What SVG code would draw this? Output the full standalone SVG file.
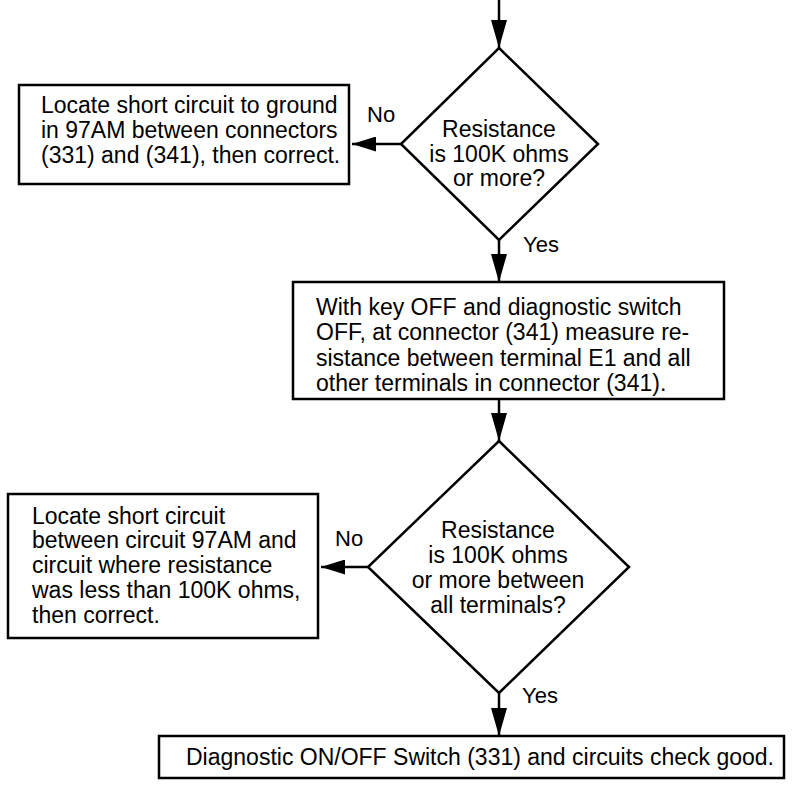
<svg xmlns="http://www.w3.org/2000/svg" width="800" height="793" viewBox="0 0 800 793">
  <style>
    .shape { fill: #ffffff; stroke: #000000; stroke-width: 2.5; }
    .conn { fill: none; stroke: #000000; stroke-width: 2.5; }
    .t { font-family: "Liberation Sans", Arial, sans-serif; font-size: 23px; fill: #000000; }
    .c { text-anchor: middle; }
    .lbl { font-family: "Liberation Sans", Arial, sans-serif; font-size: 22px; fill: #000000; }
  </style>
  <defs>
    <marker id="arrow" markerUnits="userSpaceOnUse" viewBox="0 0 28 16" markerWidth="28" markerHeight="16" refX="28" refY="8" orient="auto">
      <path d="M0,0 L28,8 L0,16 z" fill="#000000"/>
    </marker>
    <marker id="arrowh" markerUnits="userSpaceOnUse" viewBox="0 0 24 15" markerWidth="24" markerHeight="15" refX="24" refY="7.5" orient="auto">
      <path d="M0,0 L24,7.5 L0,15 z" fill="#000000"/>
    </marker>
  </defs>
  <rect width="800" height="793" fill="#ffffff"/>

  <g id="connectors">
    <line class="conn" x1="499" y1="0" x2="499" y2="48" marker-end="url(#arrow)"/>
    <line class="conn" x1="401" y1="144" x2="352" y2="144" marker-end="url(#arrowh)"/>
    <line class="conn" x1="499" y1="240" x2="499" y2="282" marker-end="url(#arrow)"/>
    <line class="conn" x1="499" y1="399" x2="499" y2="441" marker-end="url(#arrow)"/>
    <line class="conn" x1="368" y1="567" x2="321" y2="567" marker-end="url(#arrowh)"/>
    <line class="conn" x1="499" y1="693" x2="499" y2="736" marker-end="url(#arrow)"/>
    <text class="lbl" x="367" y="122">No</text>
    <text class="lbl" x="523" y="252">Yes</text>
    <text class="lbl" x="335" y="546">No</text>
    <text class="lbl" x="522" y="703">Yes</text>
  </g>

  <g id="decision1">
    <polygon class="shape" points="499,48 598,144 499,240 401,144"/>
    <text class="t c" x="499" y="137">Resistance</text>
    <text class="t c" x="499" y="162">is 100K ohms</text>
    <text class="t c" x="499" y="186">or more?</text>
  </g>

  <g id="box-short-ground">
    <rect class="shape" x="19" y="85" width="330" height="99"/>
    <text class="t" x="41" y="113">Locate short circuit to ground</text>
    <text class="t" x="41" y="138">in 97AM between connectors</text>
    <text class="t" x="41" y="163">(331) and (341), then correct.</text>
  </g>

  <g id="box-measure">
    <rect class="shape" x="293" y="282" width="431" height="117"/>
    <text class="t" x="316" y="315">With key OFF and diagnostic switch</text>
    <text class="t" x="316" y="340">OFF, at connector (341) measure re-</text>
    <text class="t" x="316" y="366">sistance between terminal E1 and all</text>
    <text class="t" x="316" y="391">other terminals in connector (341).</text>
  </g>

  <g id="decision2">
    <polygon class="shape" points="499,441 629,567 499,693 368,567"/>
    <text class="t c" x="498" y="538">Resistance</text>
    <text class="t c" x="498" y="563">is 100K ohms</text>
    <text class="t c" x="498" y="588">or more between</text>
    <text class="t c" x="498" y="613">all terminals?</text>
  </g>

  <g id="box-short-circuits">
    <rect class="shape" x="8" y="494" width="310" height="144"/>
    <text class="t" x="32" y="524">Locate short circuit</text>
    <text class="t" x="32" y="548">between circuit 97AM and</text>
    <text class="t" x="32" y="573">circuit where resistance</text>
    <text class="t" x="32" y="598">was less than 100K ohms,</text>
    <text class="t" x="32" y="623">then correct.</text>
  </g>

  <g id="box-good">
    <rect class="shape" x="159" y="736" width="625" height="42"/>
    <text class="t" x="186" y="765">Diagnostic ON/OFF Switch (331) and circuits check good.</text>
  </g>
</svg>
